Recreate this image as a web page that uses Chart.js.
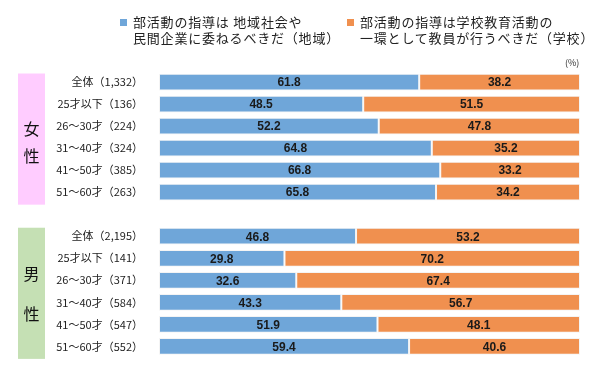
<!DOCTYPE html>
<html>
<head>
<meta charset="utf-8">
<script src="https://cdn.jsdelivr.net/npm/chart.js@4/dist/chart.umd.min.js"></script>
<style>
  body { margin: 0; background: #fff; }
  #wrap { position: relative; width: 603px; height: 380px; }
  .legend { position: absolute; font-family: "Noto Sans CJK JP", sans-serif; font-size: 13px; line-height: 16px; color: #222; letter-spacing: 0.8px; }
  .legend i { position: absolute; left: -13px; top: 5px; width: 7px; height: 7px; }
  #unit { position: absolute; left: 565px; top: 56px; font-family: "Noto Sans CJK JP", sans-serif; font-size: 9px; color: #333; }
  canvas { display: block; }
</style>
</head>
<body>
<div id="wrap">
  <canvas id="chart" width="603" height="380"></canvas>
  <div class="legend" style="left:133px; top:14px;"><i style="background:#6FA6D9"></i>部活動の指導は 地域社会や<br>民間企業に委ねるべきだ（地域）</div>
  <div class="legend" style="left:360px; top:14px;"><i style="background:#F0904F"></i>部活動の指導は学校教育活動の<br>一環として教員が行うべきだ（学校）</div>
  <div id="unit">(%)</div>
</div>
<script>
const categories = [
  '全体（1,332）', '25才以下（136）', '26～30才（224）', '31～40才（324）', '41～50才（385）', '51～60才（263）',
  '',
  '全体（2,195）', '25才以下（141）', '26～30才（371）', '31～40才（584）', '41～50才（547）', '51～60才（552）'
];
const chiiki = [61.8, 48.5, 52.2, 64.8, 66.8, 65.8, null, 46.8, 29.8, 32.6, 43.3, 51.9, 59.4];
const gakko = [38.2, 51.5, 47.8, 35.2, 33.2, 34.2, null, 53.2, 70.2, 67.4, 56.7, 48.1, 40.6];

const groups = [
  { label: ['女', '性'], from: 0, to: 5, color: '#FFCCFF', offs: [-10, 17] },
  { label: ['男', '性'], from: 7, to: 12, color: '#C5E0B4', offs: [-19, 21] }
];

// value labels in the middle of every segment
const valueLabels = {
  id: 'valueLabels',
  afterDatasetsDraw(chart) {
    const ctx = chart.ctx;
    ctx.save();
    ctx.font = 'bold 12px "Liberation Sans", Arial, sans-serif';
    ctx.fillStyle = '#1a1a1a';
    ctx.textAlign = 'center';
    ctx.textBaseline = 'middle';
    chart.data.datasets.forEach((ds, i) => {
      chart.getDatasetMeta(i).data.forEach((bar, j) => {
        const v = ds.data[j];
        if (v == null) return;
        ctx.fillText(v.toFixed(1), (bar.x + bar.base) / 2, bar.y + 1);
      });
    });
    ctx.restore();
  }
};

// pink / green side boxes with 女性 / 男性
const groupBoxes = {
  id: 'groupBoxes',
  afterDraw(chart) {
    const ctx = chart.ctx;
    const y = chart.scales.y;
    ctx.save();
    groups.forEach(g => {
      const top = y.getPixelForValue(g.from) - 8.5;
      const bottom = y.getPixelForValue(g.to) + 12.5;
      ctx.fillStyle = g.color;
      ctx.fillRect(18, top, 27, bottom - top);
      const mid = (top + bottom) / 2;
      ctx.fillStyle = '#111';
      ctx.font = '16px "Noto Sans CJK JP", sans-serif';
      ctx.textAlign = 'center';
      ctx.textBaseline = 'middle';
      ctx.fillText(g.label[0], 31.5, mid + g.offs[0]);
      ctx.fillText(g.label[1], 31.5, mid + g.offs[1]);
    });
    ctx.restore();
  }
};

new Chart(document.getElementById('chart'), {
  type: 'bar',
  data: {
    labels: categories,
    datasets: [
      { label: '地域', data: chiiki, backgroundColor: '#6FA6D9', borderColor: '#f4f4f4', borderWidth: 1, borderSkipped: false },
      { label: '学校', data: gakko, backgroundColor: '#F0904F', borderColor: '#f4f4f4', borderWidth: 1, borderSkipped: false }
    ]
  },
  options: {
    indexAxis: 'y',
    responsive: false,
    animation: false,
    layout: { padding: { left: 0, right: 23, top: 71, bottom: 9 } },
    barPercentage: 0.76,
    categoryPercentage: 1,
    plugins: { legend: { display: false }, tooltip: { enabled: false } },
    scales: {
      x: { stacked: true, min: 0, max: 100, display: false },
      y: {
        stacked: true,
        grid: { display: false, drawTicks: false },
        border: { display: false },
        afterFit(scale) { scale.width = 159; },
        ticks: {
          padding: 16,
          color: '#222',
          font: { family: '"Noto Sans CJK JP", sans-serif', size: 11 }
        }
      }
    }
  },
  plugins: [valueLabels, groupBoxes]
});
</script>
</body>
</html>
